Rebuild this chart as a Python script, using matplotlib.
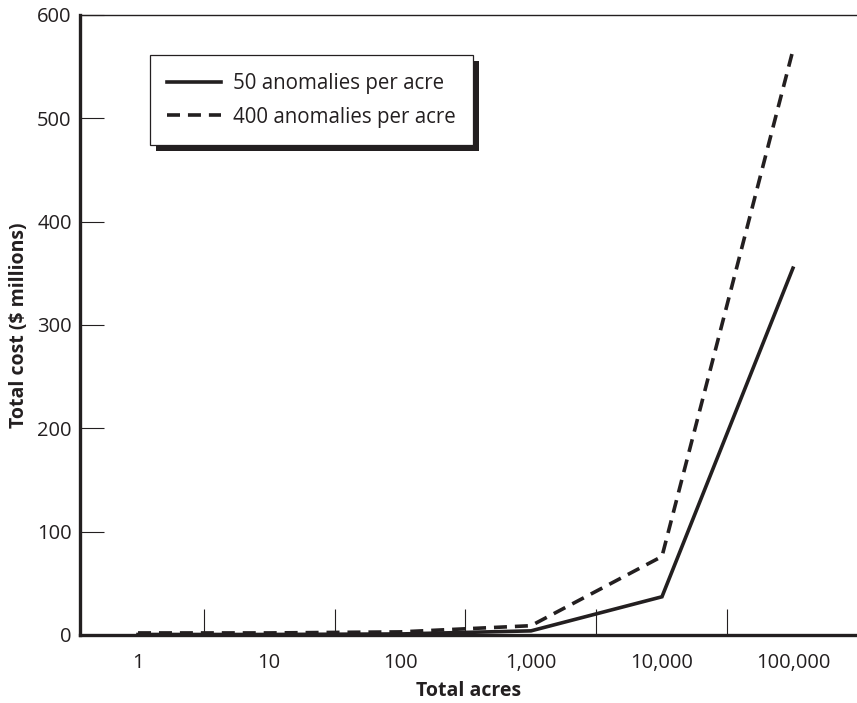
import matplotlib
matplotlib.use("Agg")
import matplotlib.pyplot as plt
from matplotlib.patches import Shadow
import numpy as np

# 데이터
acres = ["1", "10", "100", "1,000", "10,000", "100,000"]
cost_50 = [0.5, 0.5, 1.0, 4.0, 37.0, 355.0]
cost_400 = [2.0, 2.0, 3.0, 9.0, 76.0, 566.0]
yticks = [0, 100, 200, 300, 400, 500, 600]

ink = "#231f20"
plt.rcParams["font.family"] = ["Open Sans", "DejaVu Sans"]

fig = plt.figure(figsize=(8.57, 7.03), dpi=100)
ax = fig.add_axes([80 / 857, 68 / 703, 777 / 857, 620 / 703])

x = np.arange(len(acres))
ax.plot(x, cost_50, color=ink, lw=2.6, solid_joinstyle="miter",
        label="50 anomalies per acre")
ax.plot(x, cost_400, color=ink, lw=2.6, dashes=(3.6, 2.2),
        label="400 anomalies per acre")

ax.set_xlim(-0.443, 5.489)
ax.set_ylim(0, 600)

# 축 눈금
ax.set_xticks(x)
ax.set_xticklabels(acres, fontsize=14.5)
ax.set_xticks(x[:-1] + 0.5, minor=True)
ax.tick_params(axis="x", which="major", length=0, pad=13, colors=ink)
ax.tick_params(axis="x", which="minor", direction="in", length=19, width=0.8, color=ink)
ax.set_yticks(yticks)
ax.tick_params(axis="y", direction="in", length=17.5, width=0.8, pad=6,
               labelsize=14.5, color=ink, labelcolor=ink)

for side in ["left", "bottom"]:
    ax.spines[side].set_linewidth(2.4)
    ax.spines[side].set_color(ink)
ax.spines["top"].set_linewidth(1.0)
ax.spines["top"].set_color(ink)
ax.spines["right"].set_visible(False)

ax.set_xlabel("Total acres", fontsize=14, fontweight="bold", color=ink, labelpad=6)
ax.set_ylabel("Total cost ($ millions)", fontsize=14, fontweight="bold", color=ink, labelpad=6)

leg = ax.legend(loc="upper left", bbox_to_anchor=(0.090, 0.935), borderaxespad=0,
                fancybox=False, frameon=True, framealpha=1, fontsize=14.8,
                handlelength=2.6, handletextpad=0.6, labelspacing=0.62, borderpad=0.85)
leg.get_frame().set_edgecolor(ink)
leg.get_frame().set_linewidth(0.9)
for t in leg.get_texts():
    t.set_color(ink)

fig.canvas.draw()
sh = Shadow(leg.legendPatch, 4.3, -4.3, facecolor=ink, edgecolor="none", alpha=1)
sh.set_zorder(4.9)
ax.add_artist(sh)

fig.savefig("out.png", dpi=100)
